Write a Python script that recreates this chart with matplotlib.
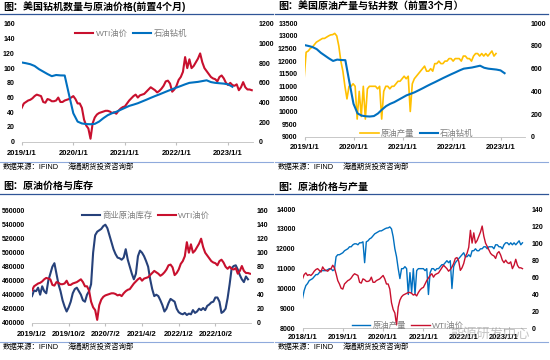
import numpy as np
import matplotlib
matplotlib.use('Agg')
import matplotlib.pyplot as plt
from matplotlib.lines import Line2D

plt.rcParams['font.family'] = ['Liberation Sans', 'Noto Sans CJK SC']

RED  = '#C8102E'
BLUE = '#0070C0'
NAVY = '#26417A'
GOLD = '#FFC000'

# WTI price, twice a month from 2018/1
wti = [58, 63, 65, 62, 63, 62, 64, 67, 69, 70, 68, 66, 72, 69, 68, 67, 69, 70, 74, 71, 64, 56, 52, 47,
       46, 52, 54, 56, 57, 59, 62, 64, 63, 62, 54, 53, 58, 57, 55, 55, 56, 60, 54, 54, 56, 57, 58, 60,
       62, 58, 52, 52, 46, 30, 22, 18, 4, 25, 33, 37, 39, 40, 41, 42, 42, 41, 39, 40, 38, 42, 45, 47,
       48, 52, 56, 59, 62, 64, 60, 63, 64, 65, 68, 71, 74, 72, 70, 67, 69, 72, 76, 82, 83, 79, 68, 71,
       76, 84, 88, 95, 115, 100, 112, 100, 103, 108, 113, 120, 108, 100, 96, 92, 88, 86, 85, 82, 88, 90, 86, 80,
       77, 80, 77, 76, 78, 70, 74, 81, 74, 71, 71, 70]

# US crude output (kb/d), twice a month from 2018/1
prod = [9500, 9900, 10150, 10250, 10400, 10450, 10500, 10600, 10700, 10700, 10800, 10900,
        10900, 10900, 10900, 10950, 11000, 11000, 10900, 10950, 11600, 11700, 11700, 11750,
        11800, 11900, 11950, 12000, 12100, 12100, 12200, 12250, 12250, 12200, 12300, 12300,
        12350, 11300, 12350, 12400, 12500, 12550, 12650, 12750, 12800, 12850, 12900, 12900,
        12950, 13000, 13040, 13050, 13100, 13000, 12600, 12000, 11600, 11000, 10500, 11000,
        11000, 11100, 11000, 9700, 10800, 9800, 11000, 9700, 10900, 11000, 11000, 11000,
        11000, 10900, 11000, 9700, 10800, 11000, 11000, 10900, 11000, 11000, 11100, 11200,
        11200, 11300, 11400, 11300, 11400, 10000, 11100, 11300, 11400, 11500, 11600, 11700,
        11800, 11600, 11600, 11700, 11600, 11900, 11900, 12000, 11900, 11900, 12000, 12000,
        12100, 12100, 12000, 12100, 12100, 12100, 12000, 12200, 12200, 12100, 12100, 12000,
        12200, 12300, 12300, 12200, 12300, 12200, 12300, 12200, 12300, 12400, 12200, 12300]

# oil rig count (shifted), monthly from 2019/1
rig = [808, 800, 790, 772, 740, 715, 690, 668, 680, 676, 675, 480,
       290, 205, 186, 180, 178, 182, 205, 240, 270, 290, 305, 325,
       345, 365, 378, 392, 410, 428, 447, 465, 482, 500, 518, 535,
       552, 568, 585, 600, 605, 610, 618, 626, 608, 600, 596, 592,
       585, 560]

# commercial crude stocks (kb), twice a month from 2019/1
stock = [438000, 446000, 445000, 450000, 440000, 452000, 445000, 442000, 460000, 470000, 480000, 485000,
         470000, 455000, 445000, 432000, 423000, 416000, 422000, 430000, 442000, 448000, 450000, 445000,
         440000, 432000, 430000, 440000, 445000, 455000, 500000, 525000, 530000, 532000, 534000, 538000,
         540000, 535000, 525000, 515000, 505000, 498000, 493000, 492000, 490000, 493000, 505000, 490000,
         480000, 470000, 462000, 470000, 495000, 503000, 500000, 495000, 488000, 480000, 462000, 448000,
         438000, 440000, 438000, 432000, 425000, 416000, 420000, 428000, 434000, 432000, 430000, 420000,
         415000, 413000, 412000, 414000, 411000, 413000, 412000, 418000, 414000, 416000, 420000, 418000,
         421000, 418000, 424000, 426000, 429000, 430000, 436000, 436000, 430000, 414000, 416000, 420000,
         435000, 455000, 478000, 481000, 482000, 476000, 468000, 462000, 458000, 466000, 462000]

t_wti = 2018 + np.arange(len(wti)) / 24
t_prod = 2018 + np.arange(len(prod)) / 24
t_rig = 2019 + np.arange(len(rig)) / 12
t_stock = 2019 + np.arange(len(stock)) / 24
PROD_LEAD = 0.55

years = [2019, 2020, 2021, 2022, 2023]
year_labels = ['2019/1/1', '2020/1/1', '2021/1/1', '2022/1/1', '2023/1/1']

W, H = 550, 360
fig = plt.figure(figsize=(5.5, 3.6), dpi=100)


def axes_px(x0, y0, x1, y1):
    return fig.add_axes([x0 / W, 1 - y1 / H, (x1 - x0) / W, (y1 - y0) / H])


def frame(ox, oy, title):
    fig.text((ox + 3) / W, 1 - (oy + 7) / H, title, fontsize=7.2, fontweight='bold',
             va='center', ha='left')
    fig.add_artist(Line2D([ox / W, (ox + 273) / W], [1 - (oy + 13.5) / H] * 2,
                          color='#2F5597', lw=0.9))
    fig.add_artist(Line2D([ox / W, (ox + 273) / W], [1 - (oy + 161.5) / H] * 2,
                          color='#8FAADC', lw=0.8))
    fig.text((ox + 3) / W, 1 - (oy + 167) / H, '数据来源：IFIND', fontsize=5.3, va='center')
    fig.text((ox + 68) / W, 1 - (oy + 167) / H, '海通期货投资咨询部', fontsize=5.3, va='center')


def style(ax, ax2, xt, xl, yt, yt2, xpad):
    for a in (ax, ax2):
        for s in ('top', 'left', 'right', 'bottom'):
            a.spines[s].set_visible(False)
    ax.spines['bottom'].set_visible(True)
    ax.spines['bottom'].set_color('#BFBFBF')
    ax.spines['bottom'].set_linewidth(0.6)
    ax.set_xticks(xt)
    ax.set_xticklabels(xl, fontweight='bold')
    ax.set_yticks(yt)
    ax.set_yticklabels([str(v) for v in yt], fontweight='bold')
    ax2.set_yticks(yt2)
    ax2.set_yticklabels([str(v) for v in yt2], fontweight='bold')
    ax.tick_params(axis='x', length=2, color='#BFBFBF', labelsize=5.5, pad=xpad)
    ax.tick_params(axis='y', length=0, labelsize=5, pad=5)
    ax2.tick_params(axis='y', length=0, labelsize=5, pad=4)


def legend(ax, handles, labels, cx, cy):
    ax.legend(handles, labels, loc='center', bbox_to_anchor=(cx / W, 1 - cy / H),
              bbox_transform=fig.transFigure, ncol=2, frameon=False, fontsize=6,
              handlelength=2.2, handletextpad=0.3, columnspacing=0.6, labelcolor='#7F7F7F')


# panel 1: rigs vs WTI
frame(0, 0, '图：美国钻机数量与原油价格(前置4个月)')
ax = axes_px(21.7, 24, 253, 141.7)
ax2 = ax.twinx()
l1, = ax.plot(t_wti[24:], wti[24:], color=RED, lw=1.5)
l2, = ax2.plot(t_rig, rig, color=BLUE, lw=1.5)
ax.set_xlim(2019, 2019 + (253 - 21.7) / 51.6)
ax.set_ylim(0, 160)
ax2.set_ylim(0, 1200)
style(ax, ax2, years, year_labels, list(range(0, 161, 20)), list(range(0, 1201, 200)), 4)
legend(ax2, [l1, l2], ['WTI油价', '石油钻机'], 131, 34)

# panel 2: output vs rigs
frame(275, 0, '图：美国原油产量与钻井数（前置3个月）')
ax = axes_px(304.5, 23.3, 525, 136.7)
ax2 = ax.twinx()
l1, = ax.plot(t_prod[37:] - PROD_LEAD, prod[37:], color=GOLD, lw=1.2)
l2, = ax2.plot(t_rig, rig, color=BLUE, lw=1.5)
ax.set_xlim(2019, 2019 + (525 - 304.5) / 49)
ax.set_ylim(9000, 13500)
ax2.set_ylim(0, 1000)
style(ax, ax2, years, year_labels, list(range(9000, 13501, 500)), list(range(0, 1001, 200)), 3)
legend(ax2, [l1, l2], ['原油产量', '石油钻机'], 417, 134)

# panel 3: stocks vs WTI
frame(0, 180, '图：原油价格与库存')
ax = axes_px(32, 210.7, 251, 322.7)
ax2 = ax.twinx()
l1, = ax.plot(t_stock, stock, color=NAVY, lw=1.5)
l2, = ax2.plot(t_wti[24:], wti[24:], color=RED, lw=1.5)
ax.set_xlim(2019, 2019 + (251 - 32) / 48.9)
ax.set_ylim(400000, 560000)
ax2.set_ylim(0, 160)
style(ax, ax2, [2019, 2019.75, 2020.5, 2021.25, 2022, 2022.75],
      ['2019/1/2', '2019/10/2', '2020/7/2', '2021/4/2', '2022/1/2', '2022/10/2'],
      list(range(400000, 560001, 20000)), list(range(0, 161, 20)), 4)
legend(ax2, [l1, l2], ['商业原油库存', 'WTI油价'], 146, 216)

# panel 4: WTI vs output
frame(275, 180, '图：原油价格与产量')
ax = axes_px(302.5, 209, 526, 328.3)
ax2 = ax.twinx()
l1, = ax.plot(t_prod, prod, color=BLUE, lw=1.0)
l2, = ax2.plot(t_wti, wti, color=RED, lw=1.0)
ax.set_xlim(2018, 2018 + (526 - 302.5) / 40.3)
ax.set_ylim(8000, 14000)
ax2.set_ylim(0, 140)
style(ax, ax2, [2018] + years, ['2018/1/1'] + year_labels,
      list(range(8000, 14001, 1000)), list(range(0, 141, 20)), 2)
legend(ax2, [l1, l2], ['原油产量', 'WTI油价'], 408, 326)

# faint watermark over the bottom-right corner, as in the source image
fig.text(490 / W, 1 - 335 / H, '能源研发中心', fontsize=9.5, color='#8C8C8C', alpha=0.5,
         ha='center', va='center')

fig.savefig('out.png', dpi=100)
